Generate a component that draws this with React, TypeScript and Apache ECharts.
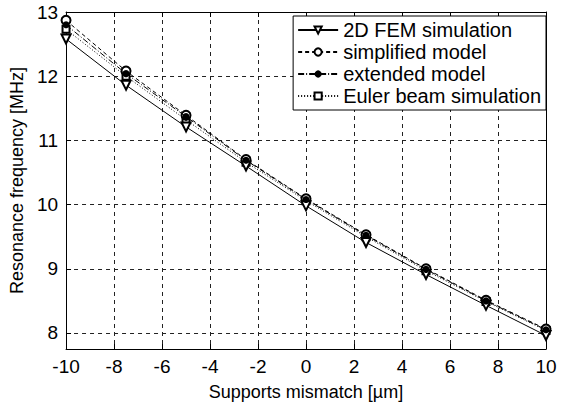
import React, { useEffect, useRef } from "react";
import * as echarts from "echarts";

const mismatch = [-10, -7.5, -5, -2.5, 0, 2.5, 5, 7.5, 10];
const femSim = [12.58, 11.86, 11.21, 10.6, 9.98, 9.41, 8.91, 8.43, 7.96];
const simplifiedModel = [12.87, 12.08, 11.39, 10.7, 10.09, 9.53, 9.0, 8.51, 8.06];
const extendedModel = [12.8, 12.04, 11.37, 10.69, 10.08, 9.52, 8.99, 8.5, 8.05];
const eulerBeam = [12.73, 12.0, 11.32, 10.66, 10.06, 9.5, 8.97, 8.49, 8.04];

const seriesNames = [
  "2D FEM simulation",
  "simplified model",
  "extended model",
  "Euler beam simulation",
];

const FONT = "'Liberation Sans', Arial, Helvetica, sans-serif";

export default function App() {
  const ref = useRef<HTMLDivElement>(null);
  useEffect(() => {
    if (!ref.current) return;
    const chart = echarts.init(ref.current, undefined, { renderer: "svg" });
    const pairs = (ys: number[]) => mismatch.map((x, i) => [x, ys[i]]);
    const gridLine = { show: true, lineStyle: { color: "#222", type: [4, 4] as any, width: 1 } };
    const axisLine = { show: true, onZero: false, lineStyle: { color: "#000", width: 1 } };
    const tick = { show: true, inside: true, length: 5, lineStyle: { color: "#000" } };
    const xCommon = { type: "value" as const, min: -10, max: 10, interval: 2 };
    const yCommon = { type: "value" as const, min: 7.75, max: 13, minInterval: 1, maxInterval: 1 };
    chart.setOption({
      animation: false,
      backgroundColor: "#fff",
      textStyle: { fontFamily: FONT },
      grid: { left: 62, right: 22, top: 12, bottom: 57, containLabel: false },
      legend: {
        orient: "vertical",
        right: 22,
        top: 16,
        data: seriesNames,
        backgroundColor: "#fff",
        borderColor: "#000",
        borderWidth: 1,
        borderRadius: 0,
        padding: [4, 5, 4, 4],
        itemWidth: 40,
        itemHeight: 9,
        itemGap: 2,
        textStyle: { fontSize: 20, color: "#000", fontFamily: FONT },
      },
      xAxis: [
        {
          ...xCommon,
          position: "bottom",
          name: "Supports mismatch [µm]",
          nameLocation: "middle",
          nameGap: 34,
          nameTextStyle: { fontSize: 18, color: "#000", fontFamily: FONT },
          axisLine,
          axisTick: tick,
          axisLabel: { fontSize: 19, color: "#000", margin: 8, fontFamily: FONT },
          splitLine: gridLine,
        },
        {
          ...xCommon,
          position: "top",
          axisLine,
          axisTick: tick,
          axisLabel: { show: false },
          splitLine: { show: false },
        },
      ],
      yAxis: [
        {
          ...yCommon,
          position: "left",
          name: "Resonance frequency [MHz]",
          nameLocation: "middle",
          nameGap: 36,
          nameTextStyle: { fontSize: 18, color: "#000", fontFamily: FONT },
          axisLine,
          axisTick: tick,
          axisLabel: {
            fontSize: 19,
            color: "#000",
            margin: 8,
            fontFamily: FONT,
            formatter: (v: number) => (Number.isInteger(v) ? String(v) : ""),
          },
          splitLine: gridLine,
        },
        {
          ...yCommon,
          position: "right",
          axisLine,
          axisTick: tick,
          axisLabel: { show: false },
          splitLine: { show: false },
        },
      ],
      series: [
        {
          name: seriesNames[0],
          type: "line",
          data: pairs(femSim),
          symbol: "emptyTriangle",
          symbolRotate: 180,
          symbolSize: 9,
          itemStyle: { color: "#000", borderWidth: 1 },
          lineStyle: { color: "#000", width: 1, type: "solid" },
          z: 5,
        },
        {
          name: seriesNames[1],
          type: "line",
          data: pairs(simplifiedModel),
          symbol: "emptyCircle",
          symbolSize: 9,
          itemStyle: { color: "#000", borderWidth: 1 },
          lineStyle: { color: "#000", width: 1, type: [4, 3] },
          z: 4,
        },
        {
          name: seriesNames[2],
          type: "line",
          data: pairs(extendedModel),
          symbol: "circle",
          symbolSize: 7,
          itemStyle: { color: "#000" },
          lineStyle: { color: "#000", width: 1, type: [6, 2, 1, 2] },
          z: 6,
        },
        {
          name: seriesNames[3],
          type: "line",
          data: pairs(eulerBeam),
          symbol: "emptyRect",
          symbolSize: 7,
          itemStyle: { color: "#000", borderWidth: 1 },
          lineStyle: { color: "#000", width: 1, type: [1, 2] },
          z: 3,
        },
      ],
    });
    return () => chart.dispose();
  }, []);
  return (
    <div
      ref={ref}
      style={{ position: "fixed", left: 0, top: 0, width: 568, height: 406 }}
    />
  );
}
